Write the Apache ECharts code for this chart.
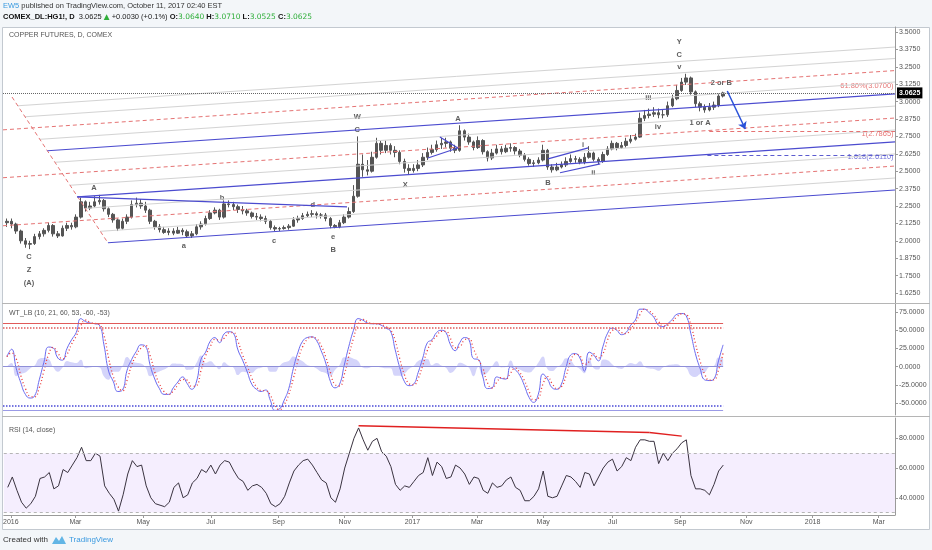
<!DOCTYPE html>
<html>
<head>
<meta charset="utf-8">
<script src="https://cdn.jsdelivr.net/npm/echarts@6/dist/echarts.min.js"></script>
<style>
html, body { margin: 0; padding: 0; background: #f3f6f9; }
#chart { width: 932px; height: 550px; }
</style>
</head>
<body>
<div id="chart"></div>
<script>
// one bar = 3 trading days, first bar on 2015-12-30, last bar 2017-10-11
var firstOpen = 2.13;
var closes = [2.14, 2.12, 2.07, 2.00, 1.975, 1.98, 2.03, 2.05, 2.075, 2.11,
    2.05, 2.035, 2.09, 2.11, 2.10, 2.17, 2.28, 2.235, 2.25, 2.28,
    2.29, 2.23, 2.19, 2.15, 2.09, 2.14, 2.17, 2.26, 2.27, 2.25,
    2.22, 2.14, 2.10, 2.08, 2.06, 2.07, 2.055, 2.075, 2.065, 2.035,
    2.05, 2.10, 2.12, 2.16, 2.20, 2.22, 2.17, 2.265, 2.26, 2.245,
    2.225, 2.215, 2.20, 2.175, 2.17, 2.16, 2.14, 2.095, 2.085, 2.088,
    2.095, 2.105, 2.15, 2.16, 2.18, 2.19, 2.195, 2.185, 2.185, 2.16,
    2.11, 2.10, 2.13, 2.17, 2.21, 2.32, 2.55, 2.51, 2.50, 2.60,
    2.70, 2.65, 2.685, 2.65, 2.635, 2.57, 2.52, 2.505, 2.52, 2.545,
    2.60, 2.635, 2.655, 2.69, 2.70, 2.71, 2.665, 2.65, 2.79, 2.745,
    2.71, 2.67, 2.72, 2.64, 2.595, 2.63, 2.66, 2.64, 2.665, 2.67,
    2.645, 2.615, 2.585, 2.555, 2.56, 2.58, 2.65, 2.53, 2.51, 2.53,
    2.545, 2.57, 2.59, 2.585, 2.565, 2.60, 2.63, 2.585, 2.57, 2.62,
    2.66, 2.70, 2.67, 2.685, 2.715, 2.73, 2.745, 2.88, 2.90, 2.91,
    2.92, 2.905, 2.905, 2.97, 3.02, 3.08, 3.14, 3.17, 3.07, 2.985,
    2.96, 2.94, 2.96, 2.975, 3.04, 3.0625];
var highs = [2.16, 2.16, 2.13, 2.08, 2.02, 2.00, 2.05, 2.07, 2.09, 2.13,
    2.12, 2.07, 2.11, 2.13, 2.13, 2.19, 2.31, 2.29, 2.28, 2.32,
    2.33, 2.30, 2.24, 2.20, 2.16, 2.16, 2.19, 2.29, 2.31, 2.30,
    2.28, 2.23, 2.15, 2.12, 2.10, 2.09, 2.09, 2.10, 2.09, 2.08,
    2.07, 2.12, 2.14, 2.18, 2.22, 2.24, 2.23, 2.29, 2.29, 2.28,
    2.26, 2.25, 2.23, 2.21, 2.20, 2.19, 2.18, 2.15, 2.11, 2.10,
    2.11, 2.12, 2.17, 2.18, 2.20, 2.21, 2.22, 2.21, 2.20, 2.20,
    2.17, 2.12, 2.15, 2.19, 2.24, 2.40, 2.75, 2.62, 2.58, 2.64,
    2.74, 2.72, 2.72, 2.70, 2.68, 2.65, 2.59, 2.55, 2.55, 2.58,
    2.63, 2.67, 2.69, 2.72, 2.74, 2.74, 2.72, 2.69, 2.83, 2.80,
    2.77, 2.72, 2.75, 2.73, 2.65, 2.66, 2.69, 2.68, 2.69, 2.70,
    2.68, 2.66, 2.63, 2.60, 2.58, 2.60, 2.69, 2.66, 2.55, 2.56,
    2.57, 2.60, 2.62, 2.61, 2.60, 2.63, 2.68, 2.64, 2.60, 2.64,
    2.68, 2.72, 2.71, 2.71, 2.74, 2.76, 2.77, 2.92, 2.94, 2.95,
    2.96, 2.95, 2.94, 3.00, 3.05, 3.12, 3.17, 3.20, 3.18, 3.08,
    3.00, 2.98, 2.99, 3.00, 3.06, 3.071];
var lows = [2.10, 2.09, 2.05, 1.98, 1.95, 1.94, 1.97, 2.01, 2.03, 2.06,
    2.03, 2.02, 2.03, 2.07, 2.08, 2.09, 2.16, 2.21, 2.22, 2.24,
    2.26, 2.21, 2.17, 2.13, 2.07, 2.08, 2.12, 2.16, 2.24, 2.23,
    2.20, 2.12, 2.08, 2.06, 2.05, 2.04, 2.04, 2.05, 2.04, 2.02,
    2.02, 2.04, 2.08, 2.11, 2.15, 2.19, 2.15, 2.16, 2.24, 2.22,
    2.20, 2.19, 2.18, 2.16, 2.15, 2.14, 2.12, 2.08, 2.07, 2.07,
    2.08, 2.08, 2.10, 2.13, 2.15, 2.17, 2.17, 2.16, 2.16, 2.14,
    2.09, 2.09, 2.09, 2.12, 2.16, 2.20, 2.31, 2.46, 2.47, 2.49,
    2.59, 2.62, 2.63, 2.62, 2.60, 2.55, 2.49, 2.48, 2.49, 2.50,
    2.53, 2.58, 2.62, 2.64, 2.66, 2.67, 2.64, 2.63, 2.64, 2.72,
    2.69, 2.65, 2.66, 2.62, 2.57, 2.58, 2.62, 2.62, 2.63, 2.64,
    2.62, 2.60, 2.57, 2.54, 2.53, 2.55, 2.57, 2.51, 2.49, 2.50,
    2.52, 2.53, 2.56, 2.56, 2.55, 2.55, 2.59, 2.57, 2.55, 2.56,
    2.61, 2.65, 2.65, 2.66, 2.67, 2.70, 2.72, 2.74, 2.86, 2.88,
    2.89, 2.88, 2.88, 2.89, 2.96, 3.01, 3.07, 3.12, 3.05, 2.96,
    2.93, 2.92, 2.93, 2.94, 2.96, 3.03];
var wt1 = [14, 24, -2, -22, -38, -43, -40, -18, 6, 27,
    26, 12, 9, 25, 37, 47, 66, 62, 60, 59,
    57, 30, -6, -20, -34, -32, -5, 10, 21, 30,
    28, 2, -17, -30, -38, -38, -29, -21, -14, -23,
    -31, -21, 10, 20, 35, 40, 33, 45, 48, 46,
    23, 9, -7, -24, -31, -34, -32, -46, -60, -58,
    -46, -30, -2, 20, 35, 40, 41, 36, 22, 5,
    -20, -29, -24, 2, 28, 50, 66, 64, 60, 59,
    59, 57, 53, 49, 24, -1, -20, -26, -24, -8,
    12, 33, 37, 47, 50, 47, 30, 22, 33, 40,
    37, 11, 10, -14, -30, -29, -14, -16, -17, 0,
    -4, -12, -26, -42, -49, -38, -10, -17, -29, -31,
    -24, -1, 16, 18, 12, -6, 20, 16, 8, 28,
    46, 53, 50, 44, 47, 57, 64, 79, 79, 74,
    68, 57, 55, 59, 65, 72, 73, 70, 46, 18,
    -2, -18, -19, -17, 8, 30];
var rsi = [47, 54, 45, 37, 33, 36, 41, 53, 54, 57,
    46, 48, 59, 57, 62, 67, 74, 65, 65, 70,
    68, 48, 43, 39, 31, 42, 56, 65, 61, 62,
    48, 40, 36, 35, 34, 37, 47, 50, 40, 42,
    50, 53, 59, 57, 62, 56, 62, 65, 64, 58,
    53, 51, 45, 48, 49, 47, 43, 36, 34, 36,
    41, 50, 58, 62, 65, 66, 62, 57, 52, 50,
    40, 37, 46, 60, 70, 80, 87, 79, 72, 78,
    80, 71, 68, 61, 49, 45, 48, 47, 51, 55,
    57, 67, 55, 64, 61, 53, 54, 62, 60, 56,
    49, 54, 53, 45, 43, 50, 47, 48, 52, 54,
    47, 45, 38, 38, 41, 46, 58, 41, 40, 41,
    48, 55, 54, 51, 47, 57, 56, 48, 54, 60,
    64, 66, 58, 61, 67, 65, 74, 79, 79, 78,
    78, 63, 70, 65, 70, 73, 77, 79, 55, 46,
    46, 45, 42, 49, 58, 62];

var timeTicks = ['2016-01-01', '2016-03-01', '2016-05-01', '2016-07-01', '2016-09-01', '2016-11-01',
    '2017-01-01', '2017-03-01', '2017-05-01', '2017-07-01', '2017-09-01', '2017-11-01',
    '2018-01-01', '2018-03-01'];
var monthNames = ['Jan', 'Feb', 'Mar', 'Apr', 'May', 'Jun', 'Jul', 'Aug', 'Sep', 'Oct', 'Nov', 'Dec'];
var priceTicks = [1.625, 1.75, 1.875, 2.0, 2.125, 2.25, 2.375, 2.5, 2.625, 2.75, 2.875, 3.0, 3.125, 3.25, 3.375, 3.5];
var wtTicks = [-50, -25, 0, 25, 50, 75];
var rsiTicks = [40, 60, 80];
var lastPrice = 3.0625;

// drawing objects, in [bar, price]
var grayLines = [
    [[2.35, 2.970], [192.2, 3.392]],
    [[3.91, 2.891], [192.2, 3.310]],
    [[7.12, 2.729], [192.2, 3.141]],
    [[10.38, 2.564], [192.2, 2.968]],
    [[13.67, 2.399], [192.2, 2.796]],
    [[16.94, 2.233], [192.2, 2.624]],
    [[20.21, 2.068], [192.2, 2.451]]
];
var blueLines = [
    [[8.76, 2.647], [192.2, 3.055]],
    [[15.30, 2.316], [192.2, 2.710]],
    [[21.86, 1.986], [192.2, 2.365]],
    [[15.17, 2.315], [73.6, 2.243]],
    [[91.1, 2.595], [97.6, 2.667]],
    [[93.7, 2.746], [97.6, 2.667]],
    [[117.1, 2.588], [125.8, 2.667]],
    [[119.7, 2.489], [128.4, 2.552]]
];
var redLines = [
    [[1.10, 3.033], [21.88, 1.984]],
    [[-0.85, 2.797], [192.2, 3.223]],
    [[-0.85, 2.453], [192.2, 2.882]],
    [[-0.85, 2.108], [192.2, 2.537]],
    [[152, 2.7865], [192.2, 2.7865]]
];
var blueDashLines = [
    [[151.6, 2.611], [192.2, 2.611]]
];
var arrowLine = [[155.9, 3.076], [159.8, 2.803]];
var waveLabels = [
    [145.5, 3.428, 'Y'], [145.5, 3.335, 'C'], [145.5, 3.249, 'v'], [154.6, 3.134, '2 or B'],
    [138.8, 3.026, 'iii'], [140.9, 2.818, 'iv'], [150.0, 2.846, '1 or A'], [126.9, 2.487, 'ii'],
    [124.7, 2.688, 'i'], [117.1, 2.415, 'B'], [97.6, 2.875, 'A'], [86.2, 2.401, 'X'],
    [75.8, 2.889, 'W'], [75.8, 2.796, 'C'], [18.85, 2.379, 'A'], [46.55, 2.307, 'b'],
    [66.2, 2.257, 'd'], [38.3, 1.963, 'a'], [57.8, 1.999, 'c'], [70.6, 2.027, 'e'],
    [70.6, 1.934, 'B'], [4.78, 1.884, 'C'], [4.78, 1.790, 'Z'], [4.78, 1.697, '(A)']
];
var fibLabels = [
    [192, 3.112, '61.80%(3.0700)', '#e05555'],
    [192, 2.767, '1(2.7865)', '#e05555'],
    [192, 2.602, '1.618(2.6110)', '#5050d0']
];
var wtLevels = [[60, '#e05a5a', 'solid'], [53, '#e05a5a', 'dotted'], [0, '#8f8fd8', 'solid'],
    [-53, '#4a4ad6', 'dotted'], [-60, '#9a9ae6', 'solid']];
var rsiTrend = [[76, 88.5], [139, 84], [146, 81.5]];

var xMin = -0.85, xMax = 192.2;
var startDay = Date.UTC(2015, 11, 30);
function barPos(s) {
    var p = s.split('-');
    var t = Date.UTC(+p[0], +p[1] - 1, +p[2]);
    var n = 0;
    for (var d = startDay; d < t; d += 86400000) {
        var wd = new Date(d).getUTCDay();
        if (wd !== 0 && wd !== 6) n++;
    }
    return n / 3;
}
var tickPos = timeTicks.map(barPos);
function tickLabel(v) {
    for (var i = 0; i < tickPos.length; i++) {
        if (Math.abs(tickPos[i] - v) < 1e-6) {
            var p = timeTicks[i].split('-');
            return p[1] === '01' ? p[0] : monthNames[+p[1] - 1];
        }
    }
    return '';
}

var candles = closes.map(function (c, i) {
    var o = i === 0 ? firstOpen : closes[i - 1];
    return [i, o, c, Math.min(lows[i], o, c), Math.max(highs[i], o, c)];
});
var wt2 = wt1.map(function (v, i) { return i === 0 ? v : (v + wt1[i - 1]) / 2; });
var lastBar = closes.length - 1;

function segs(list, style) {
    return list.map(function (s) {
        return [{ coord: s[0], lineStyle: style }, { coord: s[1] }];
    });
}
var mainMarks = []
    .concat(segs(grayLines, { color: '#d3d3d3', width: 1, type: 'solid' }))
    .concat(segs(redLines, { color: '#e57373', width: 1, type: [4, 3] }))
    .concat(segs(blueDashLines, { color: '#5c5ccf', width: 1, type: [4, 3] }))
    .concat(segs(blueLines, { color: '#4b4bcf', width: 1.2, type: 'solid' }));
mainMarks.push({
    yAxis: lastPrice,
    lineStyle: { color: '#666', type: 'dotted', width: 1 },
    label: { show: true, position: 'end', distance: 2, formatter: lastPrice.toFixed(4),
        backgroundColor: '#000', color: '#fff', fontSize: 7, fontWeight: 'bold', padding: [2, 2] }
});

var wtMarks = wtLevels.map(function (l) {
    return [{ coord: [xMin, l[0]], lineStyle: { color: l[1], type: l[2], width: l[2] === 'dotted' ? 1.5 : 1 } },
        { coord: [lastBar, l[0]] }];
});
var rsiMarks = [
    { yAxis: 70, lineStyle: { color: '#b5b5b5', type: [3, 3], width: 1 } },
    { yAxis: 30, lineStyle: { color: '#b5b5b5', type: [3, 3], width: 1 } }
];
for (var k = 0; k < rsiTrend.length - 1; k++) {
    rsiMarks.push([{ coord: rsiTrend[k], lineStyle: { color: '#e02020', width: 1.5, type: 'solid' } }, { coord: rsiTrend[k + 1] }]);
}

var font = 'Liberation Sans, Arial, sans-serif';
var hiddenX = function (g) {
    return { type: 'value', gridIndex: g, min: xMin, max: xMax, show: false };
};
var yBase = function (g, min, max, ticks) {
    return {
        type: 'value', gridIndex: g, position: 'right', min: min, max: max,
        splitLine: { show: false },
        axisLine: { show: true, onZero: false, lineStyle: { color: '#9a9a9a' } },
        axisTick: { show: true, length: 3, customValues: ticks, lineStyle: { color: '#9a9a9a' } },
        axisLabel: { customValues: ticks, fontSize: 7, color: '#555', margin: 4, fontFamily: font,
            formatter: function (v) { return v.toFixed(4); } }
    };
};

var chart = echarts.init(document.getElementById('chart'));
chart.setOption({
    animation: false,
    backgroundColor: '#f3f6f9',
    grid: [
        { left: 3, width: 892, top: 27, height: 276 },
        { left: 3, width: 892, top: 304, height: 111 },
        { left: 3, width: 892, top: 418, height: 97 }
    ],
    xAxis: [hiddenX(0), hiddenX(1), {
        type: 'value', gridIndex: 2, min: xMin, max: xMax,
        splitLine: { show: false },
        axisLine: { show: true, onZero: false, lineStyle: { color: '#9a9a9a' } },
        axisTick: { show: true, length: 3, customValues: tickPos, lineStyle: { color: '#9a9a9a' } },
        axisLabel: { customValues: tickPos, formatter: tickLabel, fontSize: 7, color: '#555', margin: 4, fontFamily: font }
    }],
    yAxis: [
        yBase(0, 1.553, 3.536, priceTicks),
        yBase(1, -66.3, 86.1, wtTicks),
        yBase(2, 28.4, 93.7, rsiTicks)
    ],
    graphic: [
        { type: 'rect', z: -10, shape: { x: 2.5, y: 27.5, width: 927, height: 502 },
            style: { fill: '#fff', stroke: '#c3c9d0', lineWidth: 1 } },
        { type: 'line', z: 50, shape: { x1: 2, y1: 303.5, x2: 930, y2: 303.5 }, style: { stroke: '#b5b5b5', lineWidth: 1 } },
        { type: 'line', z: 50, shape: { x1: 2, y1: 416.5, x2: 930, y2: 416.5 }, style: { stroke: '#b5b5b5', lineWidth: 1 } },
        { type: 'text', z: 50, x: 3, y: 6, style: {
            text: '{b|EW5} published on TradingView.com, October 11, 2017 02:40 EST',
            fontSize: 7.5, fill: '#333', fontFamily: font, verticalAlign: 'middle',
            rich: { b: { fill: '#3b9ae0', fontSize: 7.5, fontFamily: font } } } },
        { type: 'text', z: 50, x: 3, y: 17, style: {
            text: '{k|COMEX_DL:HG1!, D}  3.0625 {g|\u25B2} +0.0030 (+0.1%) {k|O:}{g|3.0640} {k|H:}{g|3.0710} {k|L:}{g|3.0525} {k|C:}{g|3.0625}',
            fontSize: 7.5, fill: '#222', fontFamily: font, verticalAlign: 'middle',
            rich: {
                k: { fontWeight: 'bold', fill: '#111', fontSize: 7.5, fontFamily: font },
                g: { fill: '#2fae3a', fontSize: 7.5, fontFamily: 'DejaVu Sans, sans-serif' }
            } } },
        { type: 'text', z: 50, x: 9, y: 35, style: { text: 'COPPER FUTURES, D, COMEX', fontSize: 7, fill: '#555', fontFamily: font, verticalAlign: 'middle' } },
        { type: 'text', z: 50, x: 9, y: 313, style: { text: 'WT_LB (10, 21, 60, 53, -60, -53)', fontSize: 7, fill: '#555', fontFamily: font, verticalAlign: 'middle' } },
        { type: 'text', z: 50, x: 9, y: 430, style: { text: 'RSI (14, close)', fontSize: 7, fill: '#555', fontFamily: font, verticalAlign: 'middle' } },
        { type: 'text', z: 50, x: 3, y: 540, style: { text: 'Created with', fontSize: 8, fill: '#333', fontFamily: font, verticalAlign: 'middle' } },
        { type: 'polygon', z: 50, shape: { points: [[52, 544], [56, 537], [59, 541], [62, 536], [66, 544]] }, style: { fill: '#62b5e5' } },
        { type: 'text', z: 50, x: 69, y: 540, style: { text: 'TradingView', fontSize: 8, fill: '#3b9ae0', fontFamily: font, verticalAlign: 'middle' } }
    ],
    series: [
        {
            type: 'candlestick', xAxisIndex: 0, yAxisIndex: 0, barWidth: 3,
            encode: { x: 0, y: [1, 2, 3, 4] },
            data: candles,
            itemStyle: { color: '#555', color0: '#555', borderColor: '#555', borderColor0: '#555', borderWidth: 1 },
            markLine: {
                silent: true, symbol: ['none', 'none'], animation: false, precision: 4,
                label: { show: false },
                data: mainMarks.concat([[
                    { coord: arrowLine[0], symbol: 'none', lineStyle: { color: '#2a52d9', width: 1.5, type: 'solid' } },
                    { coord: arrowLine[1], symbol: 'arrow', symbolSize: 7 }
                ]])
            }
        },
        {
            type: 'scatter', xAxisIndex: 0, yAxisIndex: 0, silent: true, symbolSize: 1,
            itemStyle: { color: 'transparent' },
            data: waveLabels,
            label: { show: true, position: 'inside', fontSize: 7.5, fontWeight: 'bold', color: '#333', fontFamily: font,
                formatter: function (p) { return p.value[2]; } }
        },
        {
            type: 'scatter', xAxisIndex: 0, yAxisIndex: 0, silent: true, symbolSize: 1,
            itemStyle: { color: 'transparent' },
            data: fibLabels.map(function (f) {
                return { value: [f[0], f[1], f[2]], label: { color: f[3] } };
            }),
            label: { show: true, position: 'left', distance: 0, fontSize: 7.5, fontFamily: font,
                formatter: function (p) { return p.value[2]; } }
        },
        {
            type: 'line', xAxisIndex: 1, yAxisIndex: 1, smooth: true, symbol: 'none',
            data: wt1.map(function (v, i) { return [i, v - wt2[i]]; }),
            lineStyle: { width: 0 },
            areaStyle: { color: 'rgba(120,120,240,0.45)', origin: 0 }
        },
        {
            type: 'line', xAxisIndex: 1, yAxisIndex: 1, smooth: true, symbol: 'none',
            data: wt1.map(function (v, i) { return [i, v]; }),
            lineStyle: { color: '#6a6af0', width: 1 },
            markLine: { silent: true, symbol: ['none', 'none'], label: { show: false }, data: wtMarks }
        },
        {
            type: 'line', xAxisIndex: 1, yAxisIndex: 1, smooth: true, symbol: 'none',
            data: wt2.map(function (v, i) { return [i, v]; }),
            lineStyle: { color: '#ea3a3a', width: 1.3, type: [1, 2.5] }
        },
        {
            type: 'line', xAxisIndex: 2, yAxisIndex: 2, symbol: 'none',
            data: rsi.map(function (v, i) { return [i, v]; }),
            lineStyle: { color: '#3a3340', width: 1 },
            markArea: { silent: true, itemStyle: { color: 'rgba(180,120,250,0.13)' }, data: [[{ yAxis: 30 }, { yAxis: 70 }]] },
            markLine: { silent: true, symbol: ['none', 'none'], label: { show: false }, data: rsiMarks }
        }
    ]
});
</script>
</body>
</html>
